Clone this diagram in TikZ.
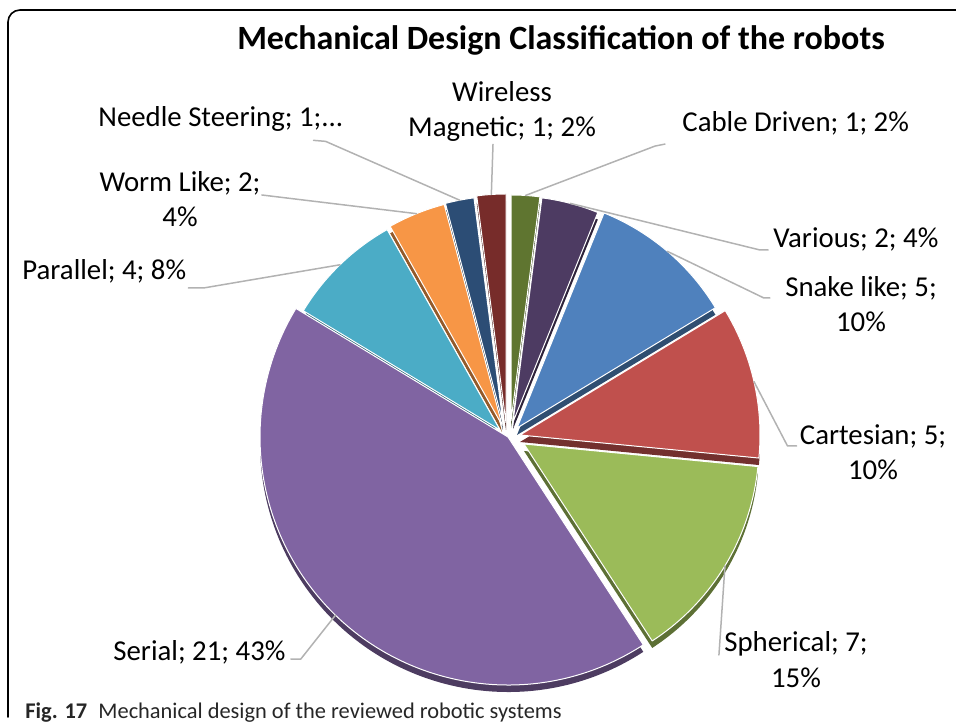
\documentclass[tikz,border=0pt]{standalone}
\usepackage{fontspec}
\setmainfont{Carlito}
\definecolor{snakec}{HTML}{4F81BD}
\definecolor{cartc}{HTML}{C0504D}
\definecolor{spherc}{HTML}{9BBB59}
\definecolor{serialc}{HTML}{8064A2}
\definecolor{parc}{HTML}{4BACC6}
\definecolor{wormc}{HTML}{F79646}
\definecolor{needlec}{HTML}{2C4D75}
\definecolor{wirelessc}{HTML}{772C2A}
\definecolor{cablec}{HTML}{5F7530}
\definecolor{variousc}{HTML}{4D3B62}
\begin{document}
\begin{tikzpicture}[scale=1, font=\fontsize{14.4}{17.5}\selectfont, line join=round, line cap=round, x=0.5pt, y=0.5pt,
  lbl/.style={inner sep=0pt, align=center}, leader/.style={draw=black!30, line width=0.75pt}]
\def \slices{cable/90/82.65/226/511/306/cablec, various/82.65/67.96/226/513/305/variousc, snake/67.96/31.22/232/517/299/snakec, cartesian/31.22/-5.51/240/520/292/cartc, spherical/-5.51/-56.94/235/524/283/spherc, serial/-56.94/-211.22/248/508/290/serialc, parallel/148.78/119.39/230/500/297/parc, worm/119.39/104.69/228/502/302/wormc, needle/104.69/97.35/227/503/304/needlec, wireless/97.35/90/229/506/304/wirelessc}
\useasboundingbox (0,0) rectangle (956,727);
\draw[line width=0.8pt, rounded corners=6pt] (8,10) -- (8,717) -- (970,717);
\foreach \n/\a/\b/\r/\px/\py/\c in \slices {\fill[\c!60!black] (\px,\py-7) -- ++(\a:\r) arc[start angle=\a, end angle=\b, radius=\r] -- cycle;}
\foreach \n/\a/\b/\r/\px/\py/\c in \slices {\fill[\c, draw=white, line width=0.5pt] (\px,\py) -- ++(\a:\r) arc[start angle=\a, end angle=\b, radius=\r] -- cycle;
  \path (\px,\py) ++({(\a+\b)/2}:\r) coordinate (\n);}
\node[font=\bfseries\fontsize{17}{20}\selectfont, anchor=base] (title) at (561,677) {Mechanical Design Classification of the robots};
\node[lbl, anchor=base west] (lneedle) at (98,600) {Needle Steering; 1;...};
\node[lbl, anchor=base] (lwireless) at (502,590) {Wireless\\Magnetic; 1; 2\%};
\node[lbl, anchor=base west] (lcable) at (682,595) {Cable Driven; 1; 2\%};
\node[lbl, anchor=base west] (lvarious) at (773,479) {Various; 2; 4\%};
\node[lbl, anchor=base] (lsnake) at (861,395) {Snake like; 5;\\10\%};
\node[lbl, anchor=base] (lcart) at (873,247) {Cartesian; 5;\\10\%};
\node[lbl, anchor=base] (lspher) at (796,40) {Spherical; 7;\\15\%};
\node[lbl, anchor=base west] (lserial) at (113,67) {Serial; 21; 43\%};
\node[lbl, anchor=base west] (lpar) at (22,447) {Parallel; 4; 8\%};
\node[lbl, anchor=base] (lworm) at (180,500) {Worm Like; 2;\\4\%};
\draw[leader] ([shift={(-30,-8)}]lneedle.south east) -- ++(12,-1) -- (needle);
\draw[leader] ([shift={(-9,-2)}]lwireless.south) -- (wireless);
\draw[leader] ([shift={(-17,-8)}]lcable.south west) -- ++(-10,-2) -- (cable);
\draw[leader] ([shift={(-5,-2)}]lvarious.base west) -- ++(-8,0) -- (various);
\draw[leader] ([shift={(-15,34)}]lsnake.base west) -- ++(-6,0) -- (snake);
\draw[leader] ([shift={(-3,34)}]lcart.base west) -- ++(-9,0) -- (cartesian);
\draw[leader] ([shift={(-5,32)}]lspher.base west) -- (spherical);
\draw[leader] ([shift={(5,1)}]lserial.base east) -- ++(10,0) -- (serial);
\draw[leader] ([shift={(2,-8)}]lpar.base east) -- ++(15,0) -- (parallel);
\draw[leader] ([shift={(1,32)}]lworm.base east) -- (worm);
\node[font=\fontsize{11.2}{13}\selectfont, text=black!85, inner sep=0pt, anchor=base west] (caption) at (25,9) {\textbf{Fig. 17}\enspace Mechanical design of the reviewed robotic systems};
\end{tikzpicture}
\end{document}
